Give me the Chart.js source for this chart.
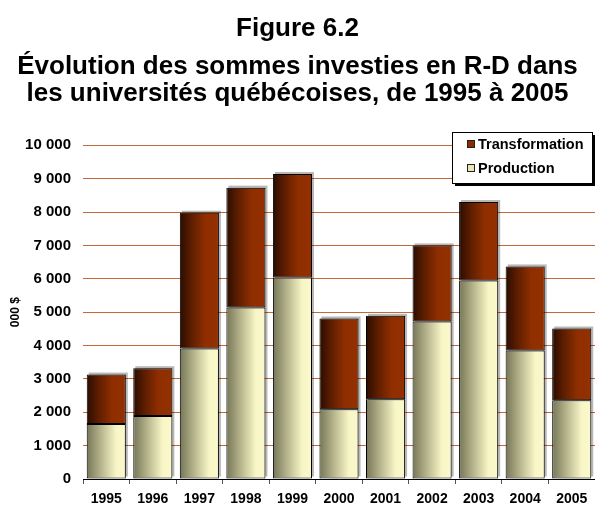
<!DOCTYPE html>
<html>
<head>
<meta charset="utf-8">
<script src="https://cdn.jsdelivr.net/npm/chart.js@4/dist/chart.umd.min.js"></script>
<style>
  html, body { margin: 0; padding: 0; background: #fff; }
  #wrap { width: 595px; height: 508px; position: relative; }
</style>
</head>
<body>
<div id="wrap"><canvas id="c" width="595" height="508"></canvas></div>
<script>
const years = ['1995','1996','1997','1998','1999','2000','2001','2002','2003','2004','2005'];
const production = [1650, 1890, 3910, 5140, 6040, 2090, 2390, 4720, 5950, 3850, 2360];
const transformation = [1480, 1430, 4070, 3590, 3100, 2720, 2500, 2280, 2350, 2520, 2150];
const yTickLabels = ['0','1 000','2 000','3 000','4 000','5 000','6 000','7 000','8 000','9 000','10 000'];
const titleText = 'Figure 6.2';
const subtitleLines = ['Évolution des sommes investies en R-D dans', 'les universités québécoises, de 1995 à 2005'];
const yTitle = '000 $';

const FONT = "'Liberation Sans', Arial, Helvetica, sans-serif";
const BAR_PCT = 0.84;

function barGradient(ctx, stops, fallback) {
  const chart = ctx.chart;
  const x = chart.scales && chart.scales.x;
  if (!x || !chart.chartArea || ctx.dataIndex === undefined) return fallback;
  const cx = x.getPixelForValue(ctx.dataIndex);
  const w = (x.getPixelForValue(1) - x.getPixelForValue(0)) * BAR_PCT;
  const g = chart.ctx.createLinearGradient(cx - w / 2, 0, cx + w / 2, 0);
  stops.forEach(s => g.addColorStop(s[0], s[1]));
  return g;
}

const prodStops = [[0, '#767658'], [0.35, '#b4b28a'], [0.75, '#f8f6c6'], [1, '#fbf9cc']];
const transStops = [[0, '#2a0c00'], [0.3, '#5e1e00'], [0.65, '#8f2e00'], [1, '#943000']];

// soft grey drop shadow behind each bar segment (up and to the right)
const shadowPlugin = {
  id: 'barShadow',
  beforeDatasetsDraw(chart) {
    const c = chart.ctx;
    c.save();
    c.fillStyle = 'rgba(0,0,0,0.28)';
    chart.data.datasets.forEach((ds, i) => {
      const meta = chart.getDatasetMeta(i);
      meta.data.forEach(el => {
        const top = Math.min(el.y, el.base);
        const bot = Math.max(el.y, el.base);
        c.fillRect(el.x - el.width / 2 + 2, top - 2, el.width, bot - top);
      });
    });
    c.restore();
  }
};

const legendPlugin = {
  id: 'boxLegend',
  afterDraw(chart) {
    const c = chart.ctx;
    const bx = 452, by = 132, bw = 140, bh = 51;
    c.save();
    c.fillStyle = '#000';
    c.fillRect(bx + 3, by + 3, bw, bh);
    c.fillStyle = '#fff';
    c.fillRect(bx, by, bw, bh);
    c.strokeStyle = '#000';
    c.lineWidth = 1;
    c.strokeRect(bx + 0.5, by + 0.5, bw, bh);
    const items = [
      { label: chart.data.datasets[1].label, fill: '#8a2c00', y: 144 },
      { label: chart.data.datasets[0].label, fill: '#e8e6b6', y: 168 }
    ];
    items.forEach(it => {
      c.fillStyle = it.fill;
      c.fillRect(467, it.y - 4, 8, 8);
      c.strokeStyle = '#222';
      c.strokeRect(467.5, it.y - 3.5, 7, 7);
      c.fillStyle = '#000';
      c.font = 'bold 14.5px ' + FONT;
      c.textBaseline = 'middle';
      c.textAlign = 'left';
      c.fillText(it.label, 478, it.y + 1);
    });
    c.restore();
  }
};

new Chart(document.getElementById('c'), {
  type: 'bar',
  data: {
    labels: years,
    datasets: [
      {
        label: 'Production',
        data: production,
        backgroundColor: ctx => barGradient(ctx, prodStops, '#e8e6b6'),
        borderColor: '#000',
        borderWidth: 1,
        borderSkipped: false,
        barPercentage: BAR_PCT,
        categoryPercentage: 1
      },
      {
        label: 'Transformation',
        data: transformation,
        backgroundColor: ctx => barGradient(ctx, transStops, '#8a2c00'),
        borderColor: '#000',
        borderWidth: 1,
        borderSkipped: false,
        barPercentage: BAR_PCT,
        categoryPercentage: 1
      }
    ]
  },
  options: {
    responsive: false,
    animation: false,
    layout: { padding: { left: 0, right: 0, top: 0, bottom: 0 } },
    plugins: {
      legend: { display: false },
      tooltip: { enabled: false },
      title: {
        display: true,
        text: titleText,
        color: '#000',
        font: { family: FONT, size: 26, weight: 'bold', lineHeight: 1.2 },
        padding: { top: 13, bottom: 0 }
      },
      subtitle: {
        display: true,
        text: subtitleLines,
        color: '#000',
        font: { family: FONT, size: 26, weight: 'bold', lineHeight: 1.04 },
        padding: { top: 9, bottom: 38 }
      }
    },
    scales: {
      x: {
        stacked: true,
        afterFit(scale) { scale.height = 29; },
        grid: { display: true, offset: true, drawOnChartArea: false, drawTicks: true, tickLength: 5, color: '#555' },
        border: { display: true, color: '#000', width: 1 },
        ticks: { color: '#000', font: { family: FONT, size: 14, weight: 'bold' }, padding: 7, maxRotation: 0, autoSkip: false }
      },
      y: {
        stacked: true,
        min: 0,
        max: 10000,
        afterFit(scale) { scale.width = 83; },
        grid: { color: '#c2683a', lineWidth: 1, drawTicks: false },
        border: { display: false },
        ticks: {
          stepSize: 1000,
          padding: 12,
          color: '#000',
          font: { family: FONT, size: 15, weight: 'bold' },
          callback: (v) => yTickLabels[Math.round(v / 1000)]
        },
        title: {
          display: true,
          text: yTitle,
          color: '#000',
          font: { family: FONT, size: 12, weight: 'bold' },
          padding: { top: 8, bottom: 0 }
        }
      }
    }
  },
  plugins: [shadowPlugin, legendPlugin]
});
</script>
</body>
</html>
